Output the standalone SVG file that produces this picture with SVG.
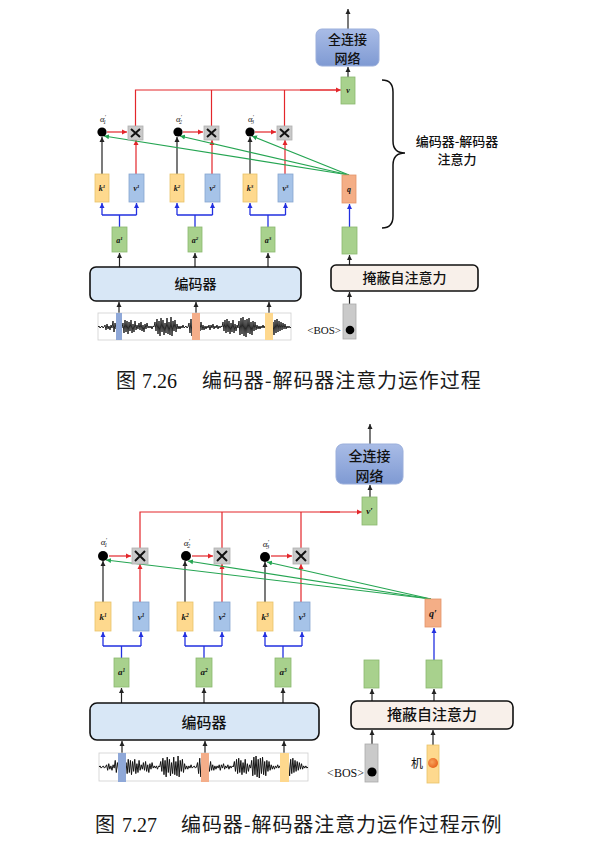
<svg xmlns="http://www.w3.org/2000/svg" xmlns:xlink="http://www.w3.org/1999/xlink" width="603" height="844" viewBox="0 0 603 844">
<style>
.cj{font-family:"Noto Sans CJK SC","Noto Sans",sans-serif;fill:#111;}
.bx{font-weight:500;text-anchor:middle;}
.cap{font-family:"Noto Sans CJK SC","Noto Sans",sans-serif;fill:#1a1a1a;font-size:20px;letter-spacing:0.9px;}
.lb{font-family:"Liberation Serif",serif;font-style:italic;font-weight:bold;text-anchor:middle;fill:#111;}
.al{font-family:"Liberation Serif",serif;font-style:italic;text-anchor:middle;fill:#222;}
.sr{font-family:"Liberation Serif",serif;fill:#111;}
.k{fill:#fed98e;stroke:#e8c36a;stroke-width:0.8;}
.v{fill:#a6c3e8;stroke:#87a6cf;stroke-width:0.8;}
.g{fill:#a8d18d;stroke:#8ab86f;stroke-width:0.8;}
.q{fill:#f4ae86;stroke:#e3956a;stroke-width:0.8;}
.x{fill:#c9c9c9;stroke:#b0b0b0;stroke-width:0.8;}
.xs{stroke:#111;stroke-width:2;}
.gray{fill:#cacaca;stroke:#aaa;stroke-width:0.8;}
.enc{fill:#d8e7f6;stroke:#111;stroke-width:1.6;}
.msk{fill:#f8f0ea;stroke:#111;stroke-width:1.6;}
.fc{fill:url(#fcg);stroke:#9aaedb;stroke-width:1;}
.bk{stroke:#222;stroke-width:1.2;fill:none;marker-end:url(#ab);}
.rd{stroke:#e3262b;stroke-width:1.2;fill:none;}
.rda{stroke:#e3262b;stroke-width:1.2;fill:none;marker-end:url(#ar);}
.bl{stroke:#2230e0;stroke-width:1.3;fill:none;}
.bla{stroke:#2230e0;stroke-width:1.3;fill:none;marker-end:url(#abl);}
.gr{stroke:#25a552;stroke-width:1.2;fill:none;marker-end:url(#ag);}
.wbox{fill:#fff;stroke:#cfcfcf;stroke-width:0.8;}
.wave{fill:none;stroke:#111;stroke-width:0.9;}
</style>
<defs>
<linearGradient id="fcg" x1="0" y1="0" x2="0" y2="1">
<stop offset="0" stop-color="#a9bce6"/>
<stop offset="1" stop-color="#7f9ad3"/>
</linearGradient>
<radialGradient id="og" cx="0.4" cy="0.4" r="0.6">
<stop offset="0" stop-color="#f7a35a"/>
<stop offset="1" stop-color="#e8661f"/>
</radialGradient>
<marker id="ab" markerUnits="userSpaceOnUse" markerWidth="6" markerHeight="6" refX="5" refY="3" orient="auto"><path d="M0,0.5 L5,3 L0,5.5 z" fill="#222"/></marker>
<marker id="ar" markerUnits="userSpaceOnUse" markerWidth="6" markerHeight="6" refX="5" refY="3" orient="auto"><path d="M0,0.5 L5,3 L0,5.5 z" fill="#e3262b"/></marker>
<marker id="abl" markerUnits="userSpaceOnUse" markerWidth="6" markerHeight="6" refX="5" refY="3" orient="auto"><path d="M0,0.5 L5,3 L0,5.5 z" fill="#2230e0"/></marker>
<marker id="ag" markerUnits="userSpaceOnUse" markerWidth="6" markerHeight="6" refX="5" refY="3" orient="auto"><path d="M0,0.5 L5,3 L0,5.5 z" fill="#25a552"/></marker>
<polyline id="wave" class="wave" points="0,0 1,-1 2,1 3,0 4,-1 5,1 6,0 7,-2 8,3 9,-3 10,2 11,-1 12,3 13,-2 14,1 15,-6 16,5 17,-4 18,2 19,-1 20,1 21,-2 22,2 23,-1 24,1 25,-4 26,6 27,-7 28,5 29,-6 30,7 31,-5 32,4 33,-7 34,6 35,-3 36,5 37,-6 38,3 39,-2 40,2 41,-4 42,3 43,-5 44,4 45,-2 46,5 47,-3 48,2 49,-4 50,1 51,-1 52,1 53,-1 54,2 55,-1 56,0 57,-5 58,4 59,-8 60,7 61,-6 62,9 63,-9 64,5 65,-7 66,8 67,-4 68,6 69,-9 70,7 71,-5 72,8 73,-10 74,9 75,-6 76,4 77,-7 78,5 79,-3 80,2 81,-1 82,2 83,-1 84,1 85,-2 86,1 87,0 88,-1 89,1 90,0 91,-4 92,6 93,-8 94,9 95,-10 96,7 97,-6 98,8 99,-5 100,4 101,-3 102,4 103,-5 104,3 105,-2 106,3 107,-1 108,2 109,-1 110,1 111,-2 112,3 113,-2 114,1 115,-3 116,2 117,-1 118,1 119,-2 120,2 121,-1 122,1 123,-1 124,0 125,-5 126,4 127,-7 128,6 129,-8 130,5 131,-6 132,7 133,-4 134,5 135,-7 136,6 137,-3 138,4 139,-2 140,1 141,-6 142,8 143,-9 144,7 145,-10 146,9 147,-7 148,10 149,-8 150,6 151,-9 152,7 153,-5 154,8 155,-6 156,4 157,-5 158,3 159,-2 160,2 161,-1 162,2 163,-1 164,1 165,-2 166,1 167,-1 168,1 169,0 170,-1 171,-6 172,8 173,-9 174,7 175,-5 176,8 177,-7 178,6 179,-8 180,5 181,-6 182,4 183,-5 184,3 185,-4 186,2 187,-3 188,2 189,-1 190,1 191,-1 192,1 193,0"/>
</defs>
<rect width="603" height="844" fill="#fff"/>

<!-- ============ TOP DIAGRAM (7.26) ============ -->
<g id="connectors-top">
<line class="bk" x1="348" y1="29" x2="348" y2="9"/>
<line class="bk" x1="348" y1="77" x2="348" y2="67"/>
<path class="rd" d="M135.5 126 V90 H336 M211.5 126 V90 M284.5 126 V90"/>
<line class="rda" x1="300" y1="90" x2="341" y2="90"/>
<line class="rda" x1="107" y1="132" x2="127" y2="132"/>
<line class="rda" x1="183" y1="132" x2="203" y2="132"/>
<line class="rda" x1="255" y1="132" x2="276" y2="132"/>
<line class="bk" x1="102" y1="174" x2="102" y2="137"/>
<line class="bk" x1="177" y1="174" x2="177" y2="137"/>
<line class="bk" x1="250" y1="174" x2="250" y2="137"/>
<line class="rda" x1="136" y1="174" x2="136" y2="140"/>
<line class="rda" x1="212" y1="174" x2="212" y2="140"/>
<line class="rda" x1="285" y1="174" x2="285" y2="140"/>
<line class="gr" x1="349" y1="175" x2="104" y2="136"/>
<line class="gr" x1="349" y1="175" x2="180" y2="136"/>
<line class="gr" x1="349" y1="175" x2="252" y2="136"/>
<path class="bl" d="M119.5 227 V215 M102 215 H136.5 M195 227 V215 M177 215 H212.5 M268 227 V215 M250 215 H285.5"/>
<line class="bla" x1="102" y1="215" x2="102" y2="203"/>
<line class="bla" x1="136.5" y1="215" x2="136.5" y2="203"/>
<line class="bla" x1="177" y1="215" x2="177" y2="203"/>
<line class="bla" x1="212.5" y1="215" x2="212.5" y2="203"/>
<line class="bla" x1="250" y1="215" x2="250" y2="203"/>
<line class="bla" x1="285.5" y1="215" x2="285.5" y2="203"/>
<line class="bk" x1="119.5" y1="267" x2="119.5" y2="253"/>
<line class="bk" x1="195" y1="267" x2="195" y2="253"/>
<line class="bk" x1="268" y1="267" x2="268" y2="253"/>
<line class="bk" x1="119" y1="318" x2="119" y2="302"/>
<line class="bk" x1="196" y1="318" x2="196" y2="302"/>
<line class="bk" x1="269" y1="318" x2="269" y2="302"/>
<line class="bk" x1="349.5" y1="265" x2="349.5" y2="255"/>
<line class="bla" x1="349.5" y1="227" x2="349.5" y2="204"/>
<line class="bk" x1="349.5" y1="304" x2="349.5" y2="292"/>
</g>

<g id="fc-top"><rect class="fc" x="316" y="29" width="63" height="37" rx="6"/>
<text class="cj bx" x="347.5" y="43.5" font-size="13">全连接</text>
<text class="cj bx" x="347.5" y="62.5" font-size="13">网络</text></g>
<g id="v-top"><rect class="g" x="341" y="77" width="14" height="27"/><text class="lb" x="348" y="93" font-size="8">v</text></g>

<g id="dot1-top"><circle cx="102" cy="132" r="4.6" fill="#000"/><text class="al" x="103" y="122" font-size="8.5">α<tspan font-size="6" dy="-3">′</tspan><tspan font-size="5.5" dx="-2.5" dy="4.5">1</tspan></text></g>
<g id="dot2-top"><circle cx="178" cy="132" r="4.6" fill="#000"/><text class="al" x="179" y="122" font-size="8.5">α<tspan font-size="6" dy="-3">′</tspan><tspan font-size="5.5" dx="-2.5" dy="4.5">2</tspan></text></g>
<g id="dot3-top"><circle cx="250" cy="132" r="4.6" fill="#000"/><text class="al" x="251" y="122" font-size="8.5">α<tspan font-size="6" dy="-3">′</tspan><tspan font-size="5.5" dx="-2.5" dy="4.5">3</tspan></text></g>
<g id="mul1-top"><rect class="x" x="128" y="126" width="15" height="14"/><path class="xs" d="M131 129 L140 137 M140 129 L131 137"/></g>
<g id="mul2-top"><rect class="x" x="204" y="126" width="15" height="14"/><path class="xs" d="M207 129 L216 137 M216 129 L207 137"/></g>
<g id="mul3-top"><rect class="x" x="277" y="126" width="15" height="14"/><path class="xs" d="M280 129 L289 137 M289 129 L280 137"/></g>

<g id="k1-top"><rect class="k" x="95" y="174" width="14" height="28"/><text class="lb" x="102" y="191" font-size="8">k<tspan font-size="5" dy="-3">1</tspan></text></g>
<g id="v1-top"><rect class="v" x="129" y="174" width="15" height="28"/><text class="lb" x="136.5" y="191" font-size="8">v<tspan font-size="5" dy="-3">1</tspan></text></g>
<g id="k2-top"><rect class="k" x="170" y="174" width="14" height="28"/><text class="lb" x="177" y="191" font-size="8">k<tspan font-size="5" dy="-3">2</tspan></text></g>
<g id="v2-top"><rect class="v" x="205" y="174" width="15" height="28"/><text class="lb" x="212.5" y="191" font-size="8">v<tspan font-size="5" dy="-3">2</tspan></text></g>
<g id="k3-top"><rect class="k" x="243" y="174" width="14" height="28"/><text class="lb" x="250" y="191" font-size="8">k<tspan font-size="5" dy="-3">3</tspan></text></g>
<g id="v3-top"><rect class="v" x="278" y="174" width="15" height="28"/><text class="lb" x="285.5" y="191" font-size="8">v<tspan font-size="5" dy="-3">3</tspan></text></g>
<g id="q-top"><rect class="q" x="342" y="175" width="14" height="28"/><text class="lb" x="349" y="192" font-size="8">q</text></g>

<g id="a1-top"><rect class="g" x="112" y="227" width="15" height="25"/><text class="lb" x="119.5" y="243" font-size="8">a<tspan font-size="5" dy="-3">1</tspan></text></g>
<g id="a2-top"><rect class="g" x="188" y="227" width="14" height="25"/><text class="lb" x="195" y="243" font-size="8">a<tspan font-size="5" dy="-3">2</tspan></text></g>
<g id="a3-top"><rect class="g" x="261" y="227" width="14" height="25"/><text class="lb" x="268" y="243" font-size="8">a<tspan font-size="5" dy="-3">3</tspan></text></g>
<g id="dec-top"><rect class="g" x="342" y="227" width="15" height="27"/></g>

<g id="encoder-top"><rect class="enc" x="90" y="267" width="211" height="34" rx="6"/><text class="cj bx" x="195.5" y="289" font-size="14">编码器</text></g>
<g id="masked-top"><rect class="msk" x="331" y="265" width="147" height="26" rx="5"/><text class="cj bx" x="404.5" y="283" font-size="14">掩蔽自注意力</text></g>

<g id="wave-top">
<rect class="wbox" x="98" y="313" width="193" height="27"/>
<use xlink:href="#wave" href="#wave" transform="translate(98,327)"/>
<rect x="116" y="313" width="6" height="27" fill="#8fa8d8"/>
<rect x="192" y="313" width="8" height="27" fill="#f4ae8a"/>
<rect x="265" y="313" width="8" height="27" fill="#fed88e"/>
</g>
<g id="bos-top"><rect class="gray" x="343" y="304" width="13" height="35"/><circle cx="350" cy="330" r="4.3" fill="#000"/>
<text class="sr" x="341" y="334" font-size="11" text-anchor="end">&lt;BOS&gt;</text></g>

<g id="brace-top">
<path d="M382 80 Q393 80 393 92 V141 Q393 153 405 153 Q393 153 393 165 V216 Q393 228 382 228" fill="none" stroke="#111" stroke-width="1.5"/>
<text class="cj bx" x="457" y="146" font-size="13">编码器-解码器</text>
<text class="cj bx" x="457" y="164" font-size="13">注意力</text>
</g>

<g id="caption-top">
<text class="cap" x="116" y="388">图</text>
<text class="sr" x="142" y="388" font-size="20">7.26</text>
<text class="cap" x="202" y="388">编码器-解码器注意力运作过程</text>
</g>

<!-- ============ BOTTOM DIAGRAM (7.27) ============ -->
<g id="connectors-bottom">
<line class="bk" x1="370" y1="444" x2="370" y2="424"/>
<line class="bk" x1="370" y1="497" x2="370" y2="485"/>
<path class="rd" d="M140 548 V512 H340 M222 548 V512 M301 548 V512"/>
<line class="rda" x1="320" y1="512" x2="362" y2="512"/>
<line class="rda" x1="109" y1="556" x2="131" y2="556"/>
<line class="rda" x1="192" y1="556" x2="213" y2="556"/>
<line class="rda" x1="271" y1="556" x2="292" y2="556"/>
<line class="bk" x1="103" y1="602" x2="103" y2="561"/>
<line class="bk" x1="185" y1="602" x2="185" y2="561"/>
<line class="bk" x1="265" y1="602" x2="265" y2="562"/>
<line class="rda" x1="140" y1="602" x2="140" y2="564"/>
<line class="rda" x1="222" y1="602" x2="222" y2="564"/>
<line class="rda" x1="301" y1="602" x2="301" y2="564"/>
<line class="gr" x1="431" y1="599" x2="106" y2="560"/>
<line class="gr" x1="431" y1="599" x2="188" y2="561"/>
<line class="gr" x1="431" y1="599" x2="267" y2="562"/>
<path class="bl" d="M121.5 658 V646 M103 646 H141 M204 658 V646 M185 646 H222 M283 658 V646 M265 646 H302"/>
<line class="bla" x1="103" y1="646" x2="103" y2="632"/>
<line class="bla" x1="141" y1="646" x2="141" y2="632"/>
<line class="bla" x1="185" y1="646" x2="185" y2="632"/>
<line class="bla" x1="222" y1="646" x2="222" y2="632"/>
<line class="bla" x1="265" y1="646" x2="265" y2="632"/>
<line class="bla" x1="302" y1="646" x2="302" y2="632"/>
<line class="bk" x1="121.5" y1="703" x2="121.5" y2="688"/>
<line class="bk" x1="204" y1="703" x2="204" y2="688"/>
<line class="bk" x1="283" y1="703" x2="283" y2="688"/>
<line class="bk" x1="122" y1="758" x2="122" y2="741"/>
<line class="bk" x1="205" y1="758" x2="205" y2="741"/>
<line class="bk" x1="284" y1="758" x2="284" y2="741"/>
<line class="bk" x1="372" y1="701" x2="372" y2="689"/>
<line class="bk" x1="434" y1="701" x2="434" y2="689"/>
<line class="bla" x1="434" y1="660" x2="434" y2="628"/>
<line class="bk" x1="372" y1="744" x2="372" y2="730"/>
<line class="bk" x1="433" y1="745" x2="433" y2="730"/>
</g>

<g id="fc-bottom"><rect class="fc" x="336" y="444" width="67" height="40" rx="7"/>
<text class="cj bx" x="369.5" y="460.5" font-size="14">全连接</text>
<text class="cj bx" x="369.5" y="481" font-size="14">网络</text></g>
<g id="v-bottom"><rect class="g" x="362" y="497" width="15" height="28"/><text class="lb" x="369.5" y="514" font-size="9">v′</text></g>

<g id="dot1-bottom"><circle cx="103" cy="556" r="5" fill="#000"/><text class="al" x="104" y="545" font-size="9">α<tspan font-size="6.5" dy="-3">′</tspan><tspan font-size="6" dx="-2.5" dy="5">1</tspan></text></g>
<g id="dot2-bottom"><circle cx="186" cy="556" r="5" fill="#000"/><text class="al" x="187" y="546" font-size="9">α<tspan font-size="6.5" dy="-3">′</tspan><tspan font-size="6" dx="-2.5" dy="5">2</tspan></text></g>
<g id="dot3-bottom"><circle cx="265" cy="557" r="5" fill="#000"/><text class="al" x="266" y="547" font-size="9">α<tspan font-size="6.5" dy="-3">′</tspan><tspan font-size="6" dx="-2.5" dy="5">3</tspan></text></g>
<g id="mul1-bottom"><rect class="x" x="132" y="548" width="16" height="16"/><path class="xs" d="M135 551 L145 561 M145 551 L135 561"/></g>
<g id="mul2-bottom"><rect class="x" x="214" y="548" width="16" height="16"/><path class="xs" d="M217 551 L227 561 M227 551 L217 561"/></g>
<g id="mul3-bottom"><rect class="x" x="293" y="548" width="16" height="16"/><path class="xs" d="M296 551 L306 561 M306 551 L296 561"/></g>

<g id="k1-bottom"><rect class="k" x="95" y="602" width="16" height="29"/><text class="lb" x="103" y="620" font-size="9">k<tspan font-size="5.5" dy="-3.5">1</tspan></text></g>
<g id="v1-bottom"><rect class="v" x="133" y="602" width="16" height="29"/><text class="lb" x="141" y="620" font-size="9">v<tspan font-size="5.5" dy="-3.5">1</tspan></text></g>
<g id="k2-bottom"><rect class="k" x="177" y="602" width="16" height="29"/><text class="lb" x="185" y="620" font-size="9">k<tspan font-size="5.5" dy="-3.5">2</tspan></text></g>
<g id="v2-bottom"><rect class="v" x="214" y="602" width="16" height="29"/><text class="lb" x="222" y="620" font-size="9">v<tspan font-size="5.5" dy="-3.5">2</tspan></text></g>
<g id="k3-bottom"><rect class="k" x="257" y="602" width="16" height="29"/><text class="lb" x="265" y="620" font-size="9">k<tspan font-size="5.5" dy="-3.5">3</tspan></text></g>
<g id="v3-bottom"><rect class="v" x="294" y="602" width="16" height="29"/><text class="lb" x="302" y="620" font-size="9">v<tspan font-size="5.5" dy="-3.5">3</tspan></text></g>
<g id="q-bottom"><rect class="q" x="425" y="599" width="16" height="28"/><text class="lb" x="433" y="617" font-size="10">q′</text></g>

<g id="a1-bottom"><rect class="g" x="114" y="658" width="15" height="29"/><text class="lb" x="121.5" y="675" font-size="9">a<tspan font-size="5.5" dy="-3.5">1</tspan></text></g>
<g id="a2-bottom"><rect class="g" x="196" y="658" width="16" height="29"/><text class="lb" x="204" y="675" font-size="9">a<tspan font-size="5.5" dy="-3.5">2</tspan></text></g>
<g id="a3-bottom"><rect class="g" x="275" y="658" width="16" height="29"/><text class="lb" x="283" y="675" font-size="9">a<tspan font-size="5.5" dy="-3.5">3</tspan></text></g>
<g id="dec1-bottom"><rect class="g" x="364" y="660" width="15" height="28"/></g>
<g id="dec2-bottom"><rect class="g" x="426" y="660" width="16" height="28"/></g>

<g id="encoder-bottom"><rect class="enc" x="90" y="703" width="229" height="37" rx="7"/><text class="cj bx" x="204" y="728" font-size="15">编码器</text></g>
<g id="masked-bottom"><rect class="msk" x="351" y="701" width="162" height="28" rx="6"/><text class="cj bx" x="432" y="720" font-size="15">掩蔽自注意力</text></g>

<g id="wave-bottom">
<rect class="wbox" x="99" y="753" width="209" height="28"/>
<use xlink:href="#wave" href="#wave" transform="translate(99,767) scale(1.083,1.1)"/>
<rect x="118" y="753" width="8" height="29" fill="#8fa8d8"/>
<rect x="201" y="753" width="8" height="29" fill="#f4ae8a"/>
<rect x="280" y="753" width="9" height="29" fill="#fed88e"/>
</g>
<g id="bos-bottom"><rect class="gray" x="365" y="744" width="13" height="38"/><circle cx="372" cy="772" r="4.6" fill="#000"/>
<text class="sr" x="364" y="777" font-size="12" text-anchor="end">&lt;BOS&gt;</text></g>
<g id="ji-bottom"><rect class="k" x="427" y="745" width="12" height="38"/><circle cx="433" cy="763" r="5" fill="url(#og)"/>
<text class="cj" x="417" y="768" font-size="12" text-anchor="middle">机</text></g>

<g id="caption-bottom">
<text class="cap" x="95" y="832">图</text>
<text class="sr" x="122" y="832" font-size="20">7.27</text>
<text class="cap" x="181" y="832">编码器-解码器注意力运作过程示例</text>
</g>
</svg>
